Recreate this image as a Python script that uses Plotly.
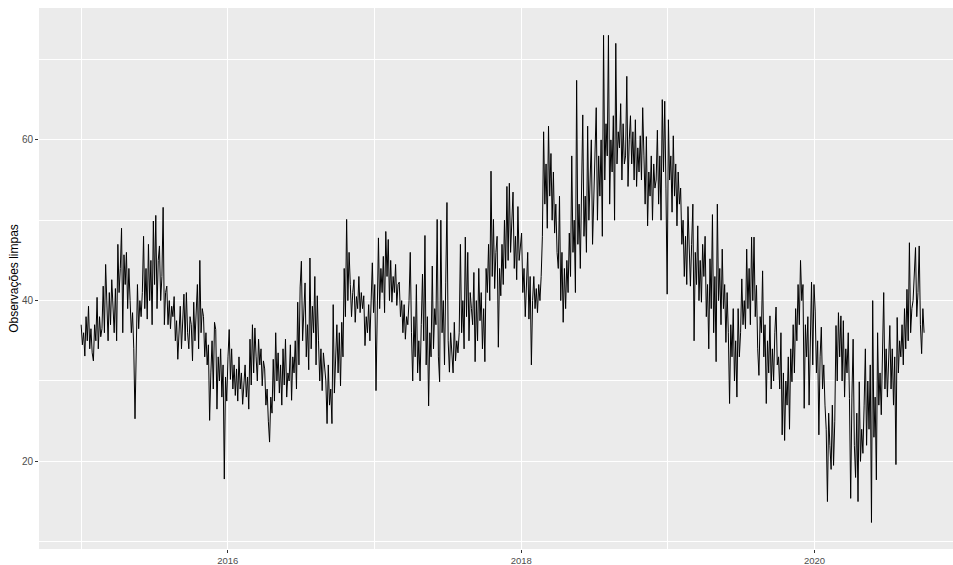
import pandas as pd
import plotly.graph_objects as go

y2015 = [
    37, 34.5, 36, 33.1, 38, 35, 39.3, 34, 36.5, 33.5,
    32.5, 37, 35, 40.4, 34, 38, 35.5, 36.5, 41.8, 36,
    44.5, 38, 35, 41, 37, 42.6, 39, 36, 41.5, 35,
    47, 41, 44, 49, 36, 45.7, 42, 46, 39, 44,
    40, 36, 38.5, 34, 25.3, 37, 42, 36.5, 40, 38,
    41, 48, 39, 44, 37.7, 47, 40, 45, 37, 49.9,
    42, 50.6, 39, 45, 46.8, 40, 43, 51.6, 37, 41,
    41.8, 37, 40, 36.5, 39.3, 38, 40.5, 35, 37.5, 32.7,
    36, 39.3, 34, 37, 40.8, 35, 41, 36, 34, 38,
    37, 32.5, 39.8, 35, 38, 42, 34, 45, 36, 39,
    38, 33, 36, 32, 34.5, 25.1, 31, 35, 29, 37.3,
    36.4, 26.5, 33, 30, 34, 28, 32, 17.8, 30.5, 27.5,
]
y2016 = [
    33, 36.4, 30.2, 34, 29, 32, 28.2, 31.5, 27.5, 33,
    29, 31, 27.1, 30, 32, 28, 30.5, 26.5, 35.2, 29.5,
    37, 31, 36.6, 33, 30, 35.2, 32, 34, 29.4, 32.5,
    31.5, 27, 29, 25, 22.4, 28, 26, 32.7, 27.5, 36,
    30, 33.5, 28.5, 32, 27, 34, 29.5, 35.2, 28, 31,
    30, 34.5, 27.6, 33, 31, 35, 29, 39.8, 32, 41.7,
    44.9, 35, 39, 42.2, 33, 37, 31.4, 45.3, 34, 39.3,
    36, 43, 32, 40.6, 35, 30, 34, 28.8, 33.5, 31.8,
    30, 24.7, 32, 27, 29, 24.7, 39.5, 28.5, 33.5, 37,
    31, 36, 29.4, 37.3, 33, 44, 38, 50.1, 40, 46,
    42, 38, 41, 42.6, 37.3, 40.5, 39, 43, 38.5, 41,
    39, 40.6, 34.4, 38, 36, 39.5, 35, 41, 44.7, 38.5,
]
y2017 = [
    42, 28.8, 40, 47.8, 39, 44, 41, 45.5, 38.5, 48.6,
    43, 47.6, 40, 45, 39.8, 43, 41, 44.5, 39.4, 42,
    42.3, 38, 40, 36, 39.5, 35.2, 38, 37, 40, 46,
    36, 30, 38, 33, 42, 31, 35, 30, 37, 43.3,
    35, 48.1, 32, 38, 26.9, 36, 33, 44.3, 34, 39,
    37, 50.1, 33, 29.9, 50, 36, 40, 32, 42.3, 52.2,
    35, 31.1, 36, 33, 31, 37.3, 32.5, 35, 33.5, 36,
    47, 36, 40, 34, 47.9, 38, 46, 35, 41, 39,
    37, 43.5, 32.4, 40, 35, 44, 37.5, 41, 34, 39,
    32.4, 44, 41, 47, 40, 56.1, 43, 50.1, 41.5, 46,
    48, 34.2, 44, 40.6, 47, 42, 50, 44, 54.2, 45,
    54.6, 46, 49, 53.5, 44, 48, 42.6, 51.7, 45, 47,
]
y2018 = [
    48.4, 41, 44, 38, 42, 46, 37.7, 43, 32, 40,
    43, 39, 41.5, 38.5, 42, 40, 43, 48, 61, 52,
    57, 49, 61.7, 53, 58.3, 50, 56, 48.4, 52, 46,
    44, 53, 40, 46, 37.3, 44, 39, 45, 41, 48.4,
    43, 58, 46, 50, 41, 67.4, 47, 52, 44, 54,
    63.1, 48, 53, 46, 61.7, 50, 55, 60, 47, 52,
    56, 64, 50, 58, 53, 60, 48, 73, 55, 62,
    58, 73, 52, 60, 56, 63, 50, 72, 57, 61,
    59, 64.5, 55, 62, 57, 58, 67.9, 54.2, 60, 63,
    57, 61, 55, 62.5, 54.2, 59, 56, 60.5, 55, 64,
    58, 52, 60.4, 49.3, 56, 53, 58, 50, 57, 54,
    55, 61.2, 52, 58, 50, 65, 56, 64.8, 54, 40.8,
]
y2019 = [
    62.5, 55, 58, 51, 60.5, 53, 57, 49.3, 56, 52,
    54, 47, 50, 43, 48, 42, 51.7, 45, 41.8, 47,
    52, 35, 46, 42, 49.3, 40, 45, 39.8, 47, 43,
    48, 38, 42, 34, 45.2, 39, 50.7, 36, 43, 32.4,
    52, 40, 44, 37, 46.4, 39, 42, 34.8, 41, 36,
    27.2, 37, 33, 39, 30, 35, 28, 39, 33, 36,
    42.7, 37, 40, 36.5, 46.4, 39, 44, 37, 47.9, 40,
    47.9, 38, 41.9, 34, 30.7, 38, 36, 43.7, 33, 37,
    27.2, 35, 31, 38.1, 29, 34, 30, 36, 39.2, 32,
    33, 29, 36, 23.3, 31, 22.6, 30, 27, 33, 24,
    34, 29.9, 37, 31, 39, 35, 42, 37, 45, 40,
    42, 26.6, 37, 33, 38, 27, 35, 42.3, 32, 42,
]
y2020 = [
    38.7, 31, 35, 23.3, 33, 36.7, 29, 32, 27, 24,
    15, 26, 22, 19, 27, 19.5, 25, 36.9, 30, 38.5,
    33, 38.1, 30, 37.5, 28, 34, 31, 36, 27.8, 15.4,
    28, 35.2, 22, 18, 26, 15, 29.9, 20, 24, 21,
    27, 34, 22, 30, 24, 32, 12.4, 40, 23, 28,
    17.7, 36, 27, 31, 25.8, 33, 41, 29, 34, 28,
    32, 36.9, 29, 34, 27, 33, 19.6, 37.9, 31, 35,
    33, 37, 32, 39, 34, 41.4, 35, 47.2, 36, 39,
    40, 43.5, 46.6, 38, 41, 46.8, 37, 33.4, 39, 36,
]

start_date = "2015-01-01"
end_date = "2020-09-30"
major_ticks = ["2016-01-01", "2018-01-01", "2020-01-01"]
major_labels = ["2016", "2018", "2020"]
minor_ticks = ["2015-01-01", "2017-01-01", "2019-01-01", "2021-01-01"]
y_major = [20, 40, 60]
y_minor = [10, 30, 50, 70]

values = y2015 + y2016 + y2017 + y2018 + y2019 + y2020
dates = pd.date_range(start=start_date, end=end_date, periods=len(values))

fig = go.Figure()
fig.add_trace(go.Scatter(
    x=dates, y=values, mode="lines",
    line=dict(color="black", width=1.0),
    hoverinfo="skip", showlegend=False,
))

font_family = "Liberation Sans, Arial, sans-serif"
fig.update_layout(
    width=953, height=565,
    margin=dict(l=39, r=0, t=8, b=16),
    paper_bgcolor="white",
    plot_bgcolor="#EBEBEB",
    font=dict(family=font_family, color="#4D4D4D"),
    showlegend=False,
)
fig.update_xaxes(
    type="date",
    range=["2014-09-18", "2020-12-11"],
    tickmode="array", tickvals=major_ticks, ticktext=major_labels,
    ticks="outside", ticklen=2.5, tickwidth=1, tickcolor="#333333",
    tickfont=dict(size=9.5, color="#4D4D4D", family=font_family),
    showgrid=True, gridcolor="white", gridwidth=1.3,
    minor=dict(tickmode="array", tickvals=minor_ticks, showgrid=True,
               gridcolor="white", gridwidth=0.6, ticks=""),
    zeroline=False, showline=False, automargin=False,
)
fig.update_yaxes(
    range=[9.1, 76.4],
    tickmode="array", tickvals=y_major, ticktext=[str(v) for v in y_major],
    ticks="outside", ticklen=3, tickwidth=1, tickcolor="#333333",
    tickfont=dict(size=10, color="#4D4D4D", family=font_family),
    showgrid=True, gridcolor="white", gridwidth=1.3,
    minor=dict(tickmode="array", tickvals=y_minor, showgrid=True,
               gridcolor="white", gridwidth=0.6, ticks=""),
    zeroline=False, showline=False, automargin=False,
    title=dict(text="Observações limpas", font=dict(size=12, color="black", family=font_family), standoff=0),
)

fig.write_html("out.html")
